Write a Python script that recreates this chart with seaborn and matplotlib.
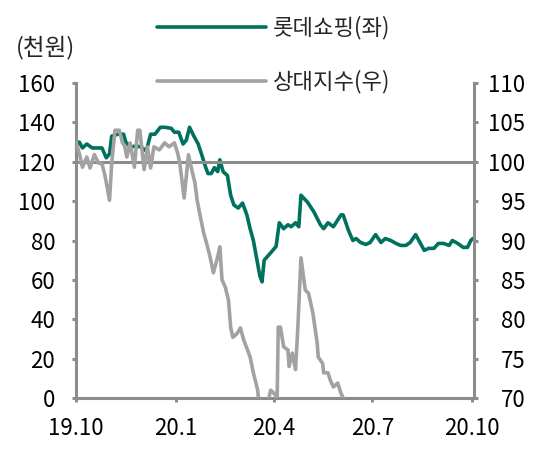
import pandas as pd
import matplotlib.pyplot as plt
import seaborn as sns

# 롯데쇼핑 주가 (천원, 좌축)
lotte_dates = [
    '2019-10-01', '2019-10-04', '2019-10-07', '2019-10-11', '2019-10-16', '2019-10-20',
    '2019-10-25', '2019-10-29', '2019-11-01', '2019-11-03', '2019-11-09', '2019-11-14',
    '2019-11-16', '2019-11-20', '2019-11-26', '2019-11-30', '2019-12-05', '2019-12-09',
    '2019-12-13', '2019-12-18', '2019-12-22', '2019-12-28', '2019-12-31', '2020-01-04',
    '2020-01-08', '2020-01-11', '2020-01-14', '2020-01-18', '2020-01-22', '2020-01-25',
    '2020-01-29', '2020-01-31', '2020-02-03', '2020-02-06', '2020-02-09', '2020-02-11',
    '2020-02-14', '2020-02-18', '2020-02-21', '2020-02-24', '2020-02-28', '2020-03-03',
    '2020-03-07', '2020-03-10', '2020-03-13', '2020-03-16', '2020-03-19', '2020-03-21',
    '2020-03-23', '2020-03-27', '2020-03-31', '2020-04-03', '2020-04-06', '2020-04-10',
    '2020-04-14', '2020-04-17', '2020-04-21', '2020-04-24', '2020-04-26', '2020-05-02',
    '2020-05-08', '2020-05-14', '2020-05-17', '2020-05-21', '2020-05-26', '2020-06-02',
    '2020-06-04', '2020-06-09', '2020-06-13', '2020-06-16', '2020-06-20', '2020-06-25',
    '2020-06-29', '2020-07-04', '2020-07-09', '2020-07-13', '2020-07-18', '2020-07-23',
    '2020-07-27', '2020-08-01', '2020-08-05', '2020-08-10', '2020-08-13', '2020-08-18',
    '2020-08-22', '2020-08-27', '2020-08-31', '2020-09-05', '2020-09-10', '2020-09-13',
    '2020-09-18', '2020-09-23', '2020-09-27', '2020-09-30', '2020-10-02',
]
lotte_price = [
    128, 130, 127, 129, 127, 127,
    127, 122, 124, 133, 134, 134,
    130, 127.5, 128, 127.5, 125.5, 134,
    134, 137.5, 137.5, 137, 135, 135,
    129, 131, 137.5, 133, 129, 124,
    117, 114, 114, 117, 115, 121,
    115, 113, 103, 98, 96.5, 99,
    93, 86, 80, 71, 62, 59,
    70, 72.5, 75, 77, 89, 86,
    88, 87, 89, 87, 103, 99.5,
    94.5, 88, 86, 89, 87, 93,
    93, 85, 80, 81, 79, 78,
    79, 83, 79, 81, 80, 78.5,
    77.5, 77.5, 79, 83, 80, 75,
    76, 76, 78.5, 78.5, 77.5, 80,
    78.5, 76.5, 76.5, 80, 81,
]

# 상대지수 (우축)
rel_dates = [
    '2019-10-01', '2019-10-04', '2019-10-07', '2019-10-11', '2019-10-14', '2019-10-18',
    '2019-10-22', '2019-10-25', '2019-10-28', '2019-11-01', '2019-11-03', '2019-11-06',
    '2019-11-10', '2019-11-13', '2019-11-15', '2019-11-17', '2019-11-20', '2019-11-24',
    '2019-11-27', '2019-11-29', '2019-12-03', '2019-12-06', '2019-12-09', '2019-12-12',
    '2019-12-17', '2019-12-22', '2019-12-26', '2019-12-31', '2020-01-03', '2020-01-05',
    '2020-01-09', '2020-01-13', '2020-01-16', '2020-01-19', '2020-01-21', '2020-01-24',
    '2020-01-27', '2020-01-30', '2020-02-02', '2020-02-05', '2020-02-09', '2020-02-11',
    '2020-02-13', '2020-02-16', '2020-02-19', '2020-02-21', '2020-02-23', '2020-02-27',
    '2020-03-01', '2020-03-04', '2020-03-07', '2020-03-10', '2020-03-13', '2020-03-17',
    '2020-03-19', '2020-03-24', '2020-03-29', '2020-04-01', '2020-04-04', '2020-04-05',
    '2020-04-07', '2020-04-10', '2020-04-14', '2020-04-15', '2020-04-18', '2020-04-21',
    '2020-04-23', '2020-04-26', '2020-04-30', '2020-05-03', '2020-05-07', '2020-05-11',
    '2020-05-12', '2020-05-16', '2020-05-17', '2020-05-21', '2020-05-23', '2020-05-26',
    '2020-05-30', '2020-06-02', '2020-06-04', '2020-06-10', '2020-07-01', '2020-08-01',
    '2020-09-01', '2020-10-02',
]
rel_index = [
    102.5, 101.1, 99.3, 100.6, 99.2, 100.9,
    99.8, 99.8, 98.1, 95.1, 99.8, 104,
    104, 102.4, 102, 100.6, 102.4, 99.3,
    104, 104, 99, 101.9, 99.2, 101.9,
    101.5, 102.4, 101.9, 102.4, 101.1, 99.8,
    95.4, 100.9, 99, 97.3, 95.1, 93,
    91, 89.5, 87.9, 85.9, 87.9, 89.2,
    85, 84.1, 82.4, 79, 77.7, 78.2,
    78.9, 77.4, 76.3, 75.2, 73.2, 71,
    68, 68, 71, 70.6, 70.1, 79,
    79, 76.5, 76.1, 74, 75.7, 73.6,
    78.6, 87.8, 83.7, 83.3, 80.8, 77,
    75.2, 74.4, 73.2, 73.2, 72.3, 71.4,
    71.9, 70.6, 70, 68, 66, 65,
    64, 63,
]

x_ticks = ['2019-10-01', '2020-01-01', '2020-04-01', '2020-07-01', '2020-10-01']
x_tick_labels = ['19.10', '20.1', '20.4', '20.7', '20.10']
left_ticks = list(range(0, 161, 20))
right_ticks = list(range(70, 111, 5))

sns.set_theme(style='white')
plt.rcParams['font.family'] = ['Noto Sans CJK KR', 'DejaVu Sans']
plt.rcParams['font.weight'] = 'light'

TEAL = '#00705f'
GRAY = '#a2a2a2'
AXIS = '#8c8c8c'
FS = 16

df_lotte = pd.DataFrame({'date': pd.to_datetime(lotte_dates), 'price': lotte_price})
df_rel = pd.DataFrame({'date': pd.to_datetime(rel_dates), 'index': rel_index})

fig, ax = plt.subplots(figsize=(5.52, 4.51), dpi=100)
fig.subplots_adjust(left=76 / 552, right=474 / 552, bottom=53 / 451, top=368 / 451)
ax2 = ax.twinx()

sns.lineplot(data=df_lotte, x='date', y='price', ax=ax, color=TEAL, lw=2.6,
             sort=False, legend=False)
ax2.axhline(100, color=AXIS, lw=2.2, zorder=1)
sns.lineplot(data=df_rel, x='date', y='index', ax=ax2, color=GRAY, lw=2.6,
             sort=False, legend=False, zorder=2)

ax.set_xlim(pd.Timestamp('2019-10-01'), pd.Timestamp('2020-10-03'))
ax.set_ylim(0, 160)
ax2.set_ylim(70, 110)
ax.set_xticks(pd.to_datetime(x_ticks))
ax.set_xticklabels(x_tick_labels)
ax.set_yticks(left_ticks)
ax2.set_yticks(right_ticks)
ax.set_xlabel('')
ax.set_ylabel('')
ax2.set_ylabel('')

for a in (ax, ax2):
    for s in a.spines.values():
        s.set_color(AXIS)
        s.set_linewidth(2.2)
    a.spines['top'].set_visible(False)
ax.spines['right'].set_visible(False)
ax2.spines['left'].set_visible(False)
ax2.spines['bottom'].set_visible(False)

ax.tick_params(axis='y', left=True, direction='out', length=3, width=2.2,
               color=AXIS, pad=12, labelsize=FS, labelcolor='black')
ax.tick_params(axis='x', bottom=True, direction='out', length=3, width=2.2,
               color=AXIS, pad=11, labelsize=FS, labelcolor='black')
ax2.tick_params(axis='y', right=True, direction='out', length=3, width=2.2,
                color=AXIS, pad=34, labelsize=FS, labelcolor='black')
for lbl in ax2.get_yticklabels():
    lbl.set_horizontalalignment('right')

handles = [ax.get_lines()[0], ax2.get_lines()[-1]]
fig.legend(handles, ['롯데쇼핑(좌)', '상대지수(우)'], loc='upper left',
           bbox_to_anchor=(157 / 552, 1 - 16 / 451), frameon=False, fontsize=16,
           borderpad=0, borderaxespad=0, handlelength=4.9, handletextpad=0.3,
           labelspacing=1.35)

fig.text(16 / 552, 1 - 48 / 451, '(천원)', fontsize=17, ha='left', va='center')

fig.savefig('out.png', dpi=100)
